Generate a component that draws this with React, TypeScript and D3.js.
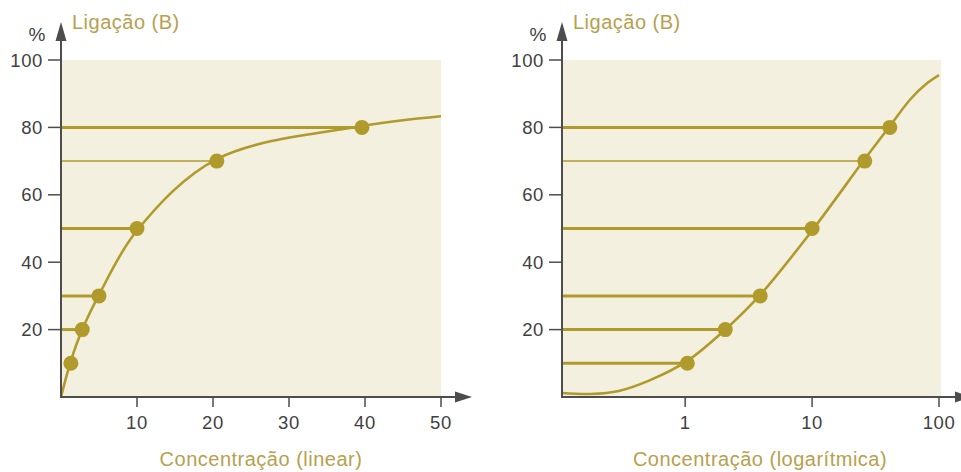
import React from "react";
import * as d3 from "d3";

// ---- data ----
const yTicks = [20, 40, 60, 80, 100];
const linearTicks = [10, 20, 30, 40, 50];
const logTicks = [1, 10, 100];

const bindingLevels = [10, 20, 30, 50, 70, 80];
const linearConc = [1.3, 2.8, 5, 10, 20.5, 39.6];
const logConc = [1.04, 2.07, 3.9, 10, 26, 41];

const linearGuides = [20, 30, 50, 70, 80];
const logGuides = [10, 20, 30, 50, 70, 80];

const linearCurveX = [0, 1.3, 2.8, 5, 10, 20.5, 39.6, 50];
const linearCurveY = [0, 10.7, 20, 30.3, 49.4, 70.6, 80.4, 83.3];

const logCurveX = [0.107, 0.18, 0.3, 0.53, 1.04, 2.07, 3.9, 10, 26, 41, 60, 80, 100];
const logCurveY = [1.2, 0.9, 1.8, 5, 10.7, 20, 30.3, 49.4, 70.6, 80.4, 88.5, 93, 95.5];

const yLabel = "Ligação (B)";
const linearTitle = "Concentração (linear)";
const logTitle = "Concentração (logarítmica)";

// ---- style ----
const GOLD = "#b09a2c";
const LABEL_GOLD = "#b7a04e";
const FILL = "#f4f0e0";
const AXIS = "#4d4d4d";
const TEXT = "#3f3f3f";
const FONT = "'Liberation Sans', Arial, Helvetica, sans-serif";

const TOP = 60;
const BOTTOM = 397;

type PanelProps = {
  x0: number;
  x1: number;
  xScale: (v: number) => number;
  ticks: number[];
  conc: number[];
  guides: number[];
  curveX: number[];
  curveY: number[];
  title: string;
  titleX: number;
};

function Panel({ x0, x1, xScale, ticks, conc, guides, curveX, curveY, title, titleX }: PanelProps) {
  const y = d3.scaleLinear().domain([0, 100]).range([BOTTOM, TOP]);
  const pts: [number, number][] = curveX.map((cx, i) => [xScale(cx), y(curveY[i])]);
  const line = d3.line().curve(d3.curveCatmullRom.alpha(0.5))(pts) || "";
  return (
    <g>
      <rect x={x0} y={TOP} width={x1 - x0} height={BOTTOM - TOP} fill={FILL} />
      {bindingLevels.map((b, i) =>
        guides.includes(b) ? (
          <line
            key={"g" + b}
            x1={x0}
            x2={xScale(conc[i])}
            y1={y(b)}
            y2={y(b)}
            stroke={GOLD}
            strokeWidth={b === 70 ? 1.5 : 3}
          />
        ) : null
      )}
      <path d={line} fill="none" stroke={GOLD} strokeWidth={2.6} />
      {bindingLevels.map((b, i) => (
        <circle key={"c" + b} cx={xScale(conc[i])} cy={y(b)} r={7.5} fill={GOLD} />
      ))}
      {/* y axis */}
      <line x1={x0} x2={x0} y1={BOTTOM + 1} y2={36} stroke={AXIS} strokeWidth={2} />
      <path d={`M${x0},22 L${x0 + 5.5},41 L${x0 - 5.5},41 Z`} fill={AXIS} />
      {yTicks.map((t) => (
        <g key={"y" + t}>
          <line x1={x0 - 13} x2={x0} y1={y(t)} y2={y(t)} stroke={AXIS} strokeWidth={1.5} />
          <text
            x={x0 - 18}
            y={y(t)}
            dy="0.36em"
            textAnchor="end"
            fontSize={18.5}
            letterSpacing={0.6}
            fontFamily={FONT}
            fill={TEXT}
          >
            {t}
          </text>
        </g>
      ))}
      <text x={x0 - 24} y={41} textAnchor="middle" fontSize={19} fontFamily={FONT} fill={TEXT}>
        %
      </text>
      <text x={x0 + 11} y={29} fontSize={20} letterSpacing={0.5} fontFamily={FONT} fill={LABEL_GOLD}>
        {yLabel}
      </text>
      {/* x axis */}
      <line x1={x0 - 1} x2={x1 + 22} y1={BOTTOM} y2={BOTTOM} stroke={AXIS} strokeWidth={2} />
      <path d={`M${x1 + 31},${BOTTOM} L${x1 + 14},${BOTTOM - 5.5} L${x1 + 14},${BOTTOM + 5.5} Z`} fill={AXIS} />
      {ticks.map((t) => (
        <g key={"x" + t}>
          <line x1={xScale(t)} x2={xScale(t)} y1={BOTTOM} y2={BOTTOM + 10} stroke={AXIS} strokeWidth={1.5} />
          <text
            x={xScale(t)}
            y={429}
            textAnchor="middle"
            fontSize={18.5}
            letterSpacing={0.6}
            fontFamily={FONT}
            fill={TEXT}
          >
            {t}
          </text>
        </g>
      ))}
      <text
        x={titleX}
        y={466}
        textAnchor="middle"
        fontSize={20}
        letterSpacing={0.5}
        fontFamily={FONT}
        fill={LABEL_GOLD}
      >
        {title}
      </text>
    </g>
  );
}

export default function App() {
  const linX = d3.scaleLinear().domain([0, 50]).range([61, 441]);
  const logX = d3.scaleLog().domain([0.107, 100]).range([562, 939]);
  return (
    <svg
      width={961}
      height={472}
      style={{ position: "absolute", left: 0, top: 0, background: "#fff" }}
    >
      <Panel
        x0={61}
        x1={441}
        xScale={linX}
        ticks={linearTicks}
        conc={linearConc}
        guides={linearGuides}
        curveX={linearCurveX}
        curveY={linearCurveY}
        title={linearTitle}
        titleX={261}
      />
      <Panel
        x0={562}
        x1={941}
        xScale={logX}
        ticks={logTicks}
        conc={logConc}
        guides={logGuides}
        curveX={logCurveX}
        curveY={logCurveY}
        title={logTitle}
        titleX={760}
      />
    </svg>
  );
}
